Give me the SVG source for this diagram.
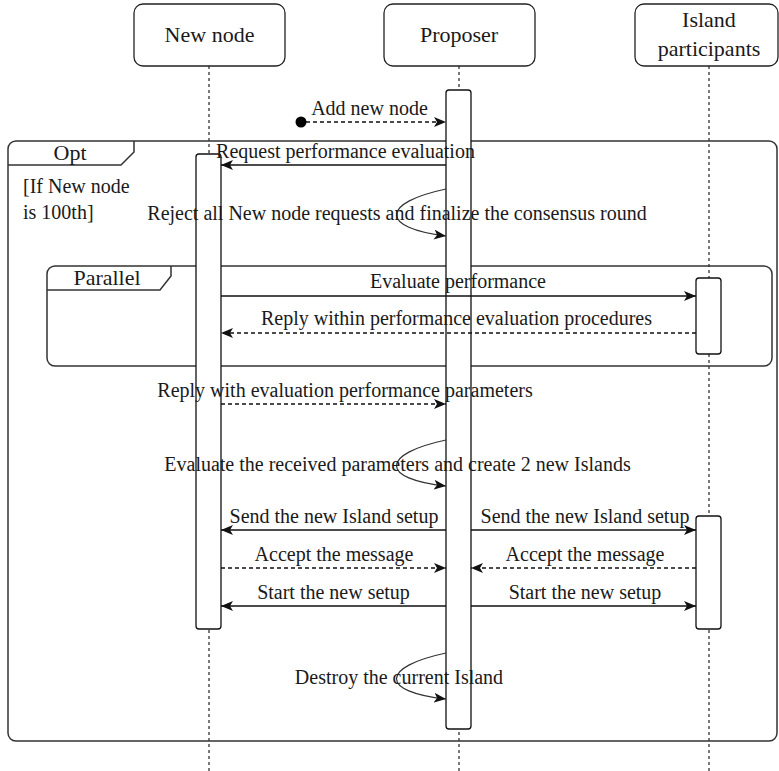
<svg xmlns="http://www.w3.org/2000/svg" width="779" height="771" viewBox="0 0 779 771" font-family="'Liberation Serif', 'Times New Roman', serif">
<style>
text{font-family:"Liberation Serif","Times New Roman",serif;fill:#1a1a1a;font-size:20px}
text.lbl{font-family:"Liberation Serif","Times New Roman",serif;font-size:22px}
.box{fill:#fff;stroke:#222;stroke-width:1.3}
.life{stroke:#333;stroke-width:1.3;stroke-dasharray:3 3;fill:none}
.act{fill:#fff;stroke:#111;stroke-width:1.3}
.frame{fill:none;stroke:#333;stroke-width:1.5}
.msg{stroke:#111;stroke-width:1.5;fill:none;marker-end:url(#arr)}
.ret{stroke:#111;stroke-width:1.5;fill:none;stroke-dasharray:4 3;marker-end:url(#arr)}
.loop{stroke:#333;stroke-width:1.2;fill:none;marker-end:url(#arr)}
</style>
<defs>
<marker id="arr" viewBox="0 0 12 10" refX="12" refY="5" markerWidth="12" markerHeight="10" markerUnits="userSpaceOnUse" orient="auto"><path d="M0,0 L12,5 L0,10 L3,5 z" fill="#111"/></marker>
</defs>
<rect width="779" height="771" fill="#fff"/>
<g id="frame-opt">
<rect class="frame" x="8" y="141" width="769" height="600" rx="8"/>
<path class="frame" d="M8,165 L121,165 L134,152 L134,141"/>
<text class="lbl" x="70" y="160" text-anchor="middle">Opt</text>
<text x="23" y="193">[If New node</text>
<text x="23" y="219">is 100th]</text>
</g>
<g id="frame-parallel">
<rect class="frame" x="47" y="266" width="725" height="100" rx="8"/>
<path class="frame" d="M47,290 L160,290 L171,276 L171,266"/>
<text class="lbl" x="107" y="285" text-anchor="middle">Parallel</text>
</g>
<g id="node-newnode">
<line class="life" x1="209" y1="66" x2="209" y2="771"/>
<rect class="box" x="134" y="4" width="151" height="62" rx="9"/>
<text class="lbl" x="209.5" y="42" text-anchor="middle">New node</text>
<rect class="act" x="196" y="154" width="25" height="475" rx="3"/>
</g>
<g id="node-proposer">
<line class="life" x1="459" y1="66" x2="459" y2="771"/>
<rect class="box" x="384" y="4" width="151" height="62" rx="9"/>
<text class="lbl" x="459" y="42" text-anchor="middle">Proposer</text>
<rect class="act" x="446" y="90" width="25" height="639" rx="3"/>
</g>
<g id="node-island">
<line class="life" x1="709" y1="66" x2="709" y2="771"/>
<rect class="box" x="635" y="4" width="143" height="62" rx="9"/>
<text class="lbl" x="709" y="27" text-anchor="middle">Island</text>
<text class="lbl" x="709" y="56" text-anchor="middle">participants</text>
<rect class="act" x="696" y="278" width="25" height="76" rx="3"/>
<rect class="act" x="696" y="516" width="25" height="113" rx="3"/>
</g>
<g id="connectors">
<circle cx="301" cy="122" r="5.5" fill="#000"/>
<line class="ret" x1="306" y1="122" x2="446" y2="122"/>
<line class="msg" x1="446" y1="165" x2="221" y2="165"/>
<path class="loop" d="M446,189 C380,203 380,228 446,236"/>
<line class="msg" x1="221" y1="296" x2="696" y2="296"/>
<line class="ret" x1="696" y1="333" x2="221" y2="333"/>
<line class="ret" x1="221" y1="404" x2="446" y2="404"/>
<path class="loop" d="M446,440 C380,454 380,479 446,486"/>
<line class="msg" x1="446" y1="530" x2="221" y2="530"/>
<line class="msg" x1="471" y1="530" x2="696" y2="530"/>
<line class="ret" x1="221" y1="568" x2="446" y2="568"/>
<line class="ret" x1="696" y1="568" x2="471" y2="568"/>
<line class="msg" x1="446" y1="606" x2="221" y2="606"/>
<line class="msg" x1="471" y1="606" x2="696" y2="606"/>
<path class="loop" d="M446,653 C380,667 380,692 446,699"/>
</g>
<g id="labels">
<text x="369.5" y="115" text-anchor="middle">Add new node</text>
<text x="345.5" y="158" text-anchor="middle">Request performance evaluation</text>
<text x="397" y="220" text-anchor="middle">Reject all New node requests and finalize the consensus round</text>
<text x="458" y="288" text-anchor="middle">Evaluate performance</text>
<text x="456.5" y="325" text-anchor="middle">Reply within performance evaluation procedures</text>
<text x="345" y="397" text-anchor="middle">Reply with evaluation performance parameters</text>
<text x="397.5" y="471" text-anchor="middle">Evaluate the received parameters and create 2 new Islands</text>
<text x="334" y="523" text-anchor="middle">Send the new Island setup</text>
<text x="585" y="523" text-anchor="middle">Send the new Island setup</text>
<text x="334" y="561" text-anchor="middle">Accept the message</text>
<text x="585" y="561" text-anchor="middle">Accept the message</text>
<text x="333.5" y="599" text-anchor="middle">Start the new setup</text>
<text x="585" y="599" text-anchor="middle">Start the new setup</text>
<text x="399" y="684" text-anchor="middle">Destroy the current Island</text>
</g>
</svg>
